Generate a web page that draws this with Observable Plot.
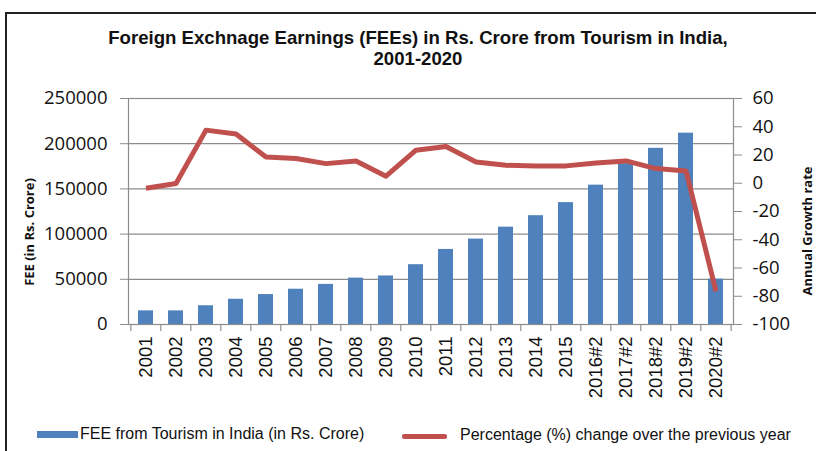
<!DOCTYPE html>
<html>
<head>
<meta charset="utf-8">
<script src="https://cdn.jsdelivr.net/npm/d3@7"></script>
<script src="https://cdn.jsdelivr.net/npm/@observablehq/plot@0.6"></script>
<style>
  body { margin: 0; background: #fff; }
  #wrap { position: relative; width: 816px; height: 451px; overflow: hidden; background: #fff; }
  #frame { position: absolute; left: 5px; top: 12px; width: 900px; height: 600px; border-left: 2px solid #222; border-top: 2px solid #222; }
  #title { position: absolute; top: 27px; left: 0; width: 836px; text-align: center; font: bold 18.6px "Liberation Sans", Arial, sans-serif; line-height: 21px; color: #111; }
  #chart { position: absolute; left: 0; top: 80px; }
  .ylab { position: absolute; font: bold 13px "Open Sans", sans-serif; color: #111; white-space: nowrap; transform-origin: center center; }
  #legend { position: absolute; left: 0; top: 424px; width: 816px; height: 27px; font: 16px "Liberation Sans", Arial, sans-serif; color: #111; }
  .lg { position: absolute; white-space: nowrap; }
</style>
</head>
<body>
<div id="wrap">
  <div id="frame"></div>
  <div id="title">Foreign Exchnage Earnings (FEEs) in Rs. Crore from Tourism in India,<br>2001-2020</div>
  <div id="chart"></div>
  <div class="ylab" id="ylabL">FEE (in Rs. Crore)</div>
  <div class="ylab" id="ylabR">Annual Growth rate</div>
  <div id="legend">
    <div class="lg" style="left:37px;top:7px;width:41px;height:7px;background:#4f81bd"></div>
    <div class="lg" style="left:80px;top:1px;">FEE from Tourism in India (in Rs. Crore)</div>
    <div class="lg" style="left:402px;top:10px;width:45px;height:5px;background:#c0504d;border-radius:2px"></div>
    <div class="lg" style="left:460px;top:2px;">Percentage (%) change over the previous year</div>
  </div>
</div>
<script>
const years = ["2001","2002","2003","2004","2005","2006","2007","2008","2009","2010",
  "2011","2012","2013","2014","2015","2016#2","2017#2","2018#2","2019#2","2020#2"];
const fee = [15083, 15064, 20729, 27944, 33123, 39025, 44360, 51294, 53700, 66172,
  83036, 94487, 107671, 120367, 134844, 154146, 177874, 194881, 211661, 50136];
const pctChange = [-3.5, -0.2, 37.6, 34.8, 18.6, 17.5, 13.9, 15.8, 5.0, 23.4,
  26.0, 15.1, 12.7, 12.3, 12.3, 14.4, 15.8, 10.4, 8.7, -76.5];
const leftTicks = [0, 50000, 100000, 150000, 200000, 250000];
const rightTicks = [-100, -80, -60, -40, -20, 0, 20, 40, 60];

const leftMax = 250000, rMin = -100, rMax = 60;
const toY = p => (p - rMin) / (rMax - rMin) * leftMax;
const fromY = v => v / leftMax * (rMax - rMin) + rMin;

const data = years.map((y, i) => ({year: y, fee: fee[i], pct: pctChange[i]}));

const W = 816, H = 340, mL = 128, mR = 83, mT = 18, mB = 96;
const step = (W - mL - mR) / years.length;

const chart = Plot.plot({
  width: W, height: H,
  marginLeft: mL, marginRight: mR, marginTop: mT, marginBottom: mB,
  style: {background: "transparent", overflow: "visible"},
  x: {domain: years, paddingInner: 0.5, paddingOuter: 0.25, axis: null},
  y: {domain: [0, leftMax], axis: null},
  marks: [
    Plot.gridY(leftTicks, {stroke: "#8c8c8c", strokeOpacity: 1, strokeWidth: 1.2}),
    Plot.barY(data, {x: "year", y: "fee", fill: "#4f81bd"}),
    Plot.frame({stroke: "#8c8c8c", strokeWidth: 1.2}),
    Plot.ruleX(years, {x: d => d, dx: -step / 2, y1: 0, y2: 0, insetBottom: -7, stroke: "#8c8c8c", strokeWidth: 1.2}),
    Plot.ruleX([years[years.length - 1]], {x: d => d, dx: step / 2, y1: 0, y2: 0, insetBottom: -7, stroke: "#8c8c8c", strokeWidth: 1.2}),
    Plot.line(data, {x: "year", y: d => toY(d.pct), stroke: "#c0504d", strokeWidth: 5, strokeLinejoin: "round", strokeLinecap: "butt"}),
    Plot.axisX({tickRotate: -90, tickSize: 0, tickPadding: 12, fontSize: 18.5, fill: "#111",
      fontFamily: "Liberation Sans, Arial, sans-serif", label: null}),
    Plot.axisY(leftTicks, {anchor: "left", tickSize: 8, tickPadding: 13, stroke: "#8c8c8c",
      tickFormat: d3.format("d"), fontSize: 18.5, fontFamily: "Open Sans, sans-serif", fill: "#111", label: null}),
    Plot.axisY(rightTicks.map(toY), {anchor: "right", tickSize: 8, tickPadding: 11, stroke: "#8c8c8c", textAnchor: "start",
      tickFormat: v => String(Math.round(fromY(v))), fontSize: 18.5, fontFamily: "Open Sans, sans-serif", fill: "#111", label: null})
  ]
});
document.getElementById("chart").appendChild(chart);

// position rotated axis titles
function placeRot(id, cx, cy) {
  const el = document.getElementById(id);
  const w = el.offsetWidth, h = el.offsetHeight;
  el.style.left = (cx - w / 2) + "px";
  el.style.top = (cy - h / 2) + "px";
  el.style.transform = "rotate(-90deg)";
}
placeRot("ylabL", 29, 232);
placeRot("ylabR", 807, 231);
</script>
</body>
</html>
